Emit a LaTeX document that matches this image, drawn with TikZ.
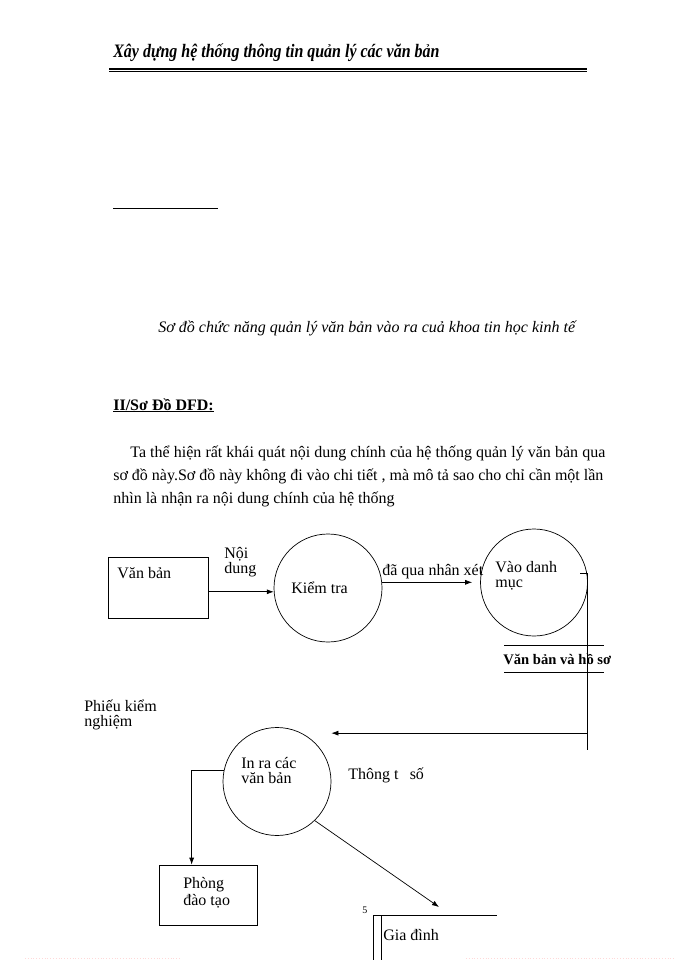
\documentclass[tikz,border=0pt]{standalone}
\usepackage{fontspec}
\setmainfont{Liberation Serif}
\usetikzlibrary{arrows.meta}
\tikzset{every picture/.style={>={Latex[length=7pt,width=5pt]}}}

\begin{document}
\begin{tikzpicture}[
    x=1pt, y=-1pt,
    line width=0.7pt,
    every node/.style={font=\fontsize{16}{18}\selectfont, inner sep=0pt},
    lbl/.style={anchor=base west},
    twoline/.style={anchor=base west, align=left,
        font=\fontsize{16}{#1}\selectfont,
        execute at begin node={\lineskiplimit=-20pt\lineskip=0pt}},
    proc/.style={circle, draw, minimum size=108pt},
    entity/.style={rectangle, draw}
]
    \useasboundingbox (0,0) rectangle (700,960);
    \fill[white] (0,0) rectangle (700,960);

    % page header
    \node[lbl, font=\fontsize{19}{22}\selectfont\bfseries\itshape] (header) at (113,58)
        {\scalebox{0.84}[1]{Xây dựng hệ thống thông tin quản lý các văn bản}};
    \draw[line width=1.4pt] (109,69.2) -- (587,69.2);
    \draw[line width=0.6pt] (109,71.4) -- (587,71.4);

    \draw[line width=1pt] (113,208) -- (218,208);

    % caption and text
    \node[lbl, font=\fontsize{16}{18}\selectfont\itshape] (caption) at (158,332)
        {Sơ đồ chức năng quản lý văn bản vào ra cuả khoa tin học kinh tế};
    \node[lbl, font=\fontsize{16}{18}\selectfont\bfseries] (section) at (113,410)
        {\underline{II/Sơ Đồ DFD:}};
    \node[lbl] (para1) at (130,457)
        {\makebox[475pt][s]{Ta thể hiện rất khái quát nội dung chính của hệ thống quản lý văn bản qua}};
    \node[lbl] (para2) at (113,480)
        {\makebox[490pt][s]{sơ đồ này.Sơ đồ này không đi vào chi tiết , mà mô tả sao cho chỉ cần một lần}};
    \node[lbl] (para3) at (113,503) {nhìn là nhận ra nội dung chính của hệ thống};

    % entities and processes
    \node[entity, minimum width=100pt, minimum height=61pt] (vanban) at (158,587.5) {};
    \node[lbl] (vanbanlbl) at (117,578) {Văn bản};

    \node[proc] (kiemtra) at (328,588) {};
    \node[lbl] (kiemtralbl) at (291,593) {Kiểm tra};

    \node[proc, minimum size=107pt] (vaodm) at (534,582.5) {};
    \node[twoline=15] (vaodmlbl) at (495,587.5) {Vào danh\\mục};

    \node[proc] (inra) at (277,781.5) {};
    \node[twoline=15] (inralbl) at (241,783) {In ra các\\văn bản};

    \node[entity, minimum width=98pt, minimum height=60pt] (phong) at (208,895) {};
    \node[twoline=17] (phonglbl) at (183,905) {Phòng\\đào tạo};

    % data stores
    \node[lbl, font=\fontsize{14.6}{17}\selectfont\bfseries] (vbhs) at (503,664) {Văn bản và hồ sơ};
    \draw (504,645) -- (604,645);
    \draw (504,672) -- (604,672);

    \coordinate (giadinh) at (373,915);
    \draw (giadinh) -- ++(124,0);
    \draw (giadinh) -- ++(0,45);
    \draw ([xshift=8pt]giadinh) -- ++(0,45);
    \node[lbl] (giadinhlbl) at (383,940) {Gia đình};
    \node[lbl, font=\fontsize{10}{12}\selectfont] (pageno) at (362,913) {5};

    % flow labels
    \node[twoline=15] (noidung) at (224,573.5) {Nội\\dung};
    \node[lbl] (nhanxet) at (382,575) {đã qua nhân xét};
    \node[twoline=15] (phieu) at (84,726) {Phiếu kiểm\\nghiệm};
    \node[lbl] (thongtu) at (348,779) {Thông t\hspace{0.7em}số};

    % flows
    \draw[->] (vanban.east |- kiemtra.184) -- (kiemtra.184);
    \draw[->, shorten >=8pt] (kiemtra.6) -- (kiemtra.6 -| vaodm.west);
    \draw (vaodm.10) -- ++(-7,0);
    \draw[->] (vaodm.10) -- ++(0,160) coordinate (turn) -- (turn -| inra.east);
    \draw (turn) -- ++(0,17);
    \draw[->] (inra.168) -| ([xshift=33pt]phong.north west);
    \draw[->] (inra.-46) -- ([xshift=66pt, yshift=8pt]giadinh);

    % page break marks
    \draw[pink!60, dotted, line width=0.8pt] (25,958) -- (181,958);
    \draw[pink!60, dotted, line width=0.8pt] (466,958) -- (675,958);
\end{tikzpicture}
\end{document}
